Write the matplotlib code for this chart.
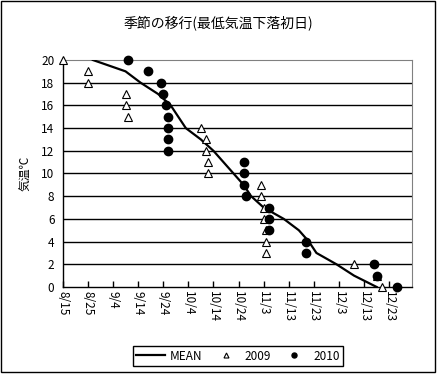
import pandas as pd
import matplotlib
matplotlib.use("Agg")
import matplotlib.pyplot as plt
from matplotlib.patches import Rectangle

plt.rcParams['font.family'] = ['Noto Sans CJK JP', 'DejaVu Sans']

# season starts 8/15, x is days since then
season_start = "2009-08-15"
tick_labels = ["8/15", "8/25", "9/4", "9/14", "9/24", "10/4", "10/14", "10/24",
               "11/3", "11/13", "11/23", "12/3", "12/13", "12/23"]

# mean curve: date of first fall below each temperature
mean_temp = [20, 19, 18, 17, 16, 15, 14, 13, 12, 11, 10, 9, 8, 7, 6, 5, 4, 3, 2, 1, 0]
mean_date = ["8/27", "9/9", "9/15", "9/22", "9/27", "9/30", "10/3", "10/9", "10/14",
             "10/18", "10/22", "10/26", "10/29", "11/3", "11/11", "11/17", "11/21",
             "11/24", "12/2", "12/9", "12/18"]

y2009_temp = [20, 19, 18, 17, 16, 15, 14, 13, 12, 11, 10, 9, 8, 7, 6, 5, 4, 3, 2, 1, 0]
y2009_date = ["8/15", "8/25", "8/25", "9/9", "9/9", "9/10", "10/9", "10/11", "10/11",
              "10/12", "10/12", "11/2", "11/2", "11/3", "11/3", "11/4", "11/4", "11/4",
              "12/9", "12/18", "12/20"]

y2010_temp = [20, 19, 18, 17, 16, 15, 14, 13, 12, 11, 10, 9, 8, 7, 6, 5, 4, 3, 2, 1, 0]
y2010_date = ["9/10", "9/18", "9/23", "9/24", "9/25", "9/26", "9/26", "9/26", "9/26",
              "10/26", "10/26", "10/26", "10/27", "11/5", "11/5", "11/5", "11/20",
              "11/20", "12/17", "12/18", "12/26"]


def to_days(dates):
    """convert M/D strings to days since the season start"""
    d = pd.to_datetime(["2009/" + s for s in dates], format="%Y/%m/%d")
    return (d - pd.Timestamp(season_start)).days.values


fig = plt.figure(figsize=(4.37, 3.74), dpi=100)
ax = fig.add_axes([0.1435, 0.2326, 0.799, 0.607])

ax.plot(to_days(mean_date), mean_temp, color='black', lw=1.6, label='MEAN', zorder=3)
ax.plot(to_days(y2009_date), y2009_temp, ls='none', marker='^', ms=6, mfc='white',
        mec='black', mew=0.8, label='2009', clip_on=False, zorder=4)
ax.plot(to_days(y2010_date), y2010_temp, ls='none', marker='o', ms=6, mfc='black',
        mec='black', label='2010', clip_on=False, zorder=5)

ax.set_xlim(0, 139)
ax.set_ylim(0, 20)
ax.set_xticks(to_days(tick_labels))
ax.set_xticklabels(tick_labels, rotation=-90, fontsize=8.5)
ax.set_yticks(range(0, 21, 2))
ax.tick_params(axis='y', length=0, labelsize=8.5, pad=6)
ax.tick_params(axis='x', direction='in', length=4, width=1, pad=3)
for v in range(2, 20, 2):
    ax.axhline(v, color='black', lw=1, zorder=1)

for s in ['top', 'right']:
    ax.spines[s].set_color('#808080')
for s in ['left', 'bottom']:
    ax.spines[s].set_color('black')
    ax.spines[s].set_linewidth(1)

ax.set_ylabel('気温℃', fontsize=8.5, labelpad=6)
fig.text(0.5, 0.938, '季節の移行(最低気温下落初日)', ha='center', va='center', fontsize=10)

leg = fig.legend(loc='center', bbox_to_anchor=(0.545, 0.048), ncol=3, fontsize=8.5,
                 frameon=True, fancybox=False, edgecolor='black', framealpha=1,
                 handlelength=2.4, columnspacing=0.8, markerscale=0.6,
                 borderpad=0.3, handletextpad=0.4)
leg.get_frame().set_linewidth(1)

fig.patches.append(Rectangle((0.003, 0.006), 0.992, 0.99, transform=fig.transFigure,
                             fill=False, edgecolor='black', lw=1))

fig.savefig('out.png', dpi=100)
